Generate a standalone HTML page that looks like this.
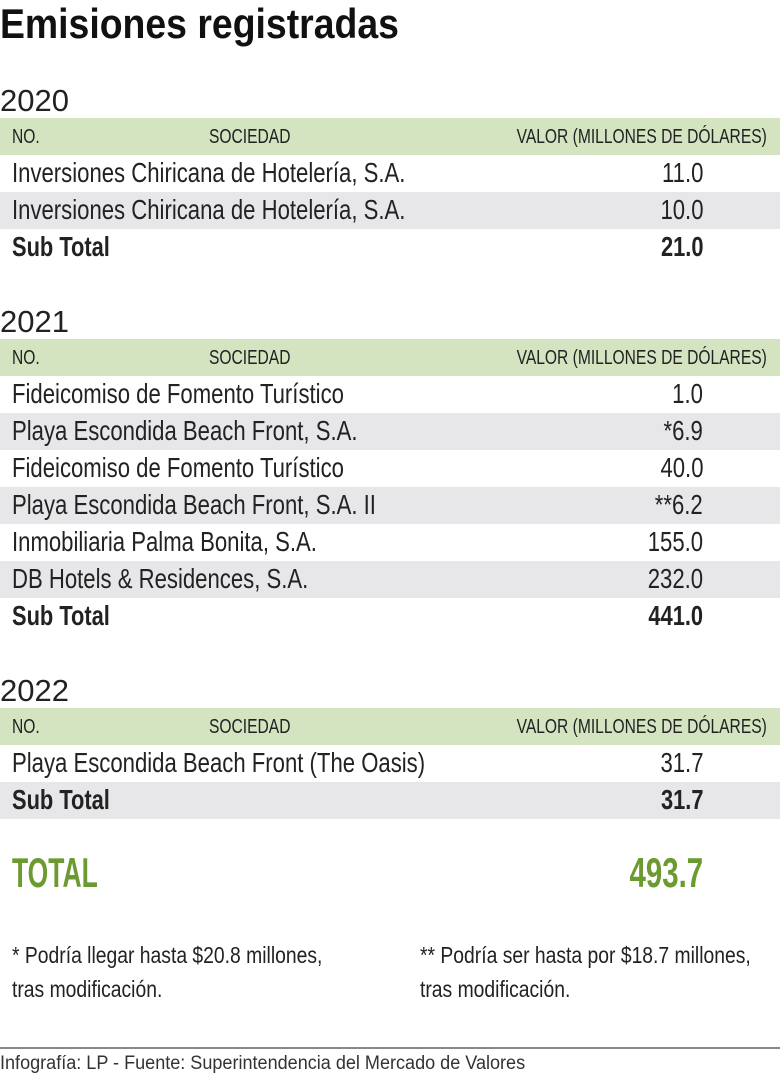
<!DOCTYPE html>
<html><head><meta charset="utf-8"><style>
body{margin:0;width:780px;height:1084px;background:#fff;position:relative;overflow:hidden;font-family:"Liberation Sans Narrow","Liberation Sans",sans-serif;color:#222}
.a{position:absolute;white-space:nowrap;line-height:1}
.l{transform-origin:left center}
.r{transform-origin:right center}
.bar{position:absolute;left:0;width:780px;height:37px}
.g{background:#d4e3c0}
.k{background:#e7e7e9}
.row{font-size:28px;transform:scaleX(0.79)}
.hd{font-size:20px;transform:scaleX(0.78)}
.b{font-weight:bold}
.row.b{transform:scaleX(0.78)}
.yr{font-size:31px;transform:scaleX(1.0)}
</style></head><body>
<div class="a l b" style="left:0;top:3px;font-size:42px;transform:scaleX(0.89);color:#111">Emisiones registradas</div>

<!-- 2020 -->
<div class="a l yr" style="left:0;top:85px">2020</div>
<div class="bar g" style="top:118px"></div>
<div class="bar k" style="top:192px"></div>
<div class="a l hd" style="left:12px;top:127px">NO.</div>
<div class="a l hd" style="left:209px;top:127px">SOCIEDAD</div>
<div class="a r hd" style="right:13px;top:127px">VALOR (MILLONES DE DÓLARES)</div>
<div class="a l row" style="left:12px;top:159px">Inversiones Chiricana de Hotelería, S.A.</div>
<div class="a r row" style="right:77px;top:159px">11.0</div>
<div class="a l row" style="left:12px;top:196px">Inversiones Chiricana de Hotelería, S.A.</div>
<div class="a r row" style="right:77px;top:196px">10.0</div>
<div class="a l row b" style="left:12px;top:233px">Sub Total</div>
<div class="a r row b" style="right:77px;top:233px">21.0</div>

<!-- 2021 -->
<div class="a l yr" style="left:0;top:306px">2021</div>
<div class="bar g" style="top:339px"></div>
<div class="bar k" style="top:413px"></div>
<div class="bar k" style="top:487px"></div>
<div class="bar k" style="top:561px"></div>
<div class="a l hd" style="left:12px;top:348px">NO.</div>
<div class="a l hd" style="left:209px;top:348px">SOCIEDAD</div>
<div class="a r hd" style="right:13px;top:348px">VALOR (MILLONES DE DÓLARES)</div>
<div class="a l row" style="left:12px;top:380px">Fideicomiso de Fomento Turístico</div>
<div class="a r row" style="right:77px;top:380px">1.0</div>
<div class="a l row" style="left:12px;top:417px">Playa Escondida Beach Front, S.A.</div>
<div class="a r row" style="right:77px;top:417px">*6.9</div>
<div class="a l row" style="left:12px;top:454px">Fideicomiso de Fomento Turístico</div>
<div class="a r row" style="right:77px;top:454px">40.0</div>
<div class="a l row" style="left:12px;top:491px">Playa Escondida Beach Front, S.A. II</div>
<div class="a r row" style="right:77px;top:491px">**6.2</div>
<div class="a l row" style="left:12px;top:528px">Inmobiliaria Palma Bonita, S.A.</div>
<div class="a r row" style="right:77px;top:528px">155.0</div>
<div class="a l row" style="left:12px;top:565px">DB Hotels &amp; Residences, S.A.</div>
<div class="a r row" style="right:77px;top:565px">232.0</div>
<div class="a l row b" style="left:12px;top:602px">Sub Total</div>
<div class="a r row b" style="right:77px;top:602px">441.0</div>

<!-- 2022 -->
<div class="a l yr" style="left:0;top:675px">2022</div>
<div class="bar g" style="top:708px"></div>
<div class="bar k" style="top:782px"></div>
<div class="a l hd" style="left:12px;top:717px">NO.</div>
<div class="a l hd" style="left:209px;top:717px">SOCIEDAD</div>
<div class="a r hd" style="right:13px;top:717px">VALOR (MILLONES DE DÓLARES)</div>
<div class="a l row" style="left:12px;top:749px">Playa Escondida Beach Front (The Oasis)</div>
<div class="a r row" style="right:77px;top:749px">31.7</div>
<div class="a l row b" style="left:12px;top:786px">Sub Total</div>
<div class="a r row b" style="right:77px;top:786px">31.7</div>

<div class="a l b" style="left:12px;top:852px;font-size:42px;color:#6b9b30;transform:scaleX(0.63)">TOTAL</div>
<div class="a r b" style="right:77px;top:852px;font-size:42px;color:#6b9b30;transform:scaleX(0.70)">493.7</div>

<div class="a l" style="left:12px;top:938px;font-size:23px;line-height:34px;transform:scaleX(0.84)">* Podría llegar hasta $20.8 millones,<br>tras modificación.</div>
<div class="a l" style="left:420px;top:938px;font-size:23px;line-height:34px;transform:scaleX(0.84)">** Podría ser hasta por $18.7 millones,<br>tras modificación.</div>

<div style="position:absolute;left:0;top:1047px;width:780px;height:2px;background:#888"></div>
<div class="a l" style="left:0;top:1054px;font-size:19px;font-family:'Liberation Sans',sans-serif;transform:scaleX(0.95);color:#333">Infografía: LP - Fuente: Superintendencia del Mercado de Valores</div>
</body></html>
